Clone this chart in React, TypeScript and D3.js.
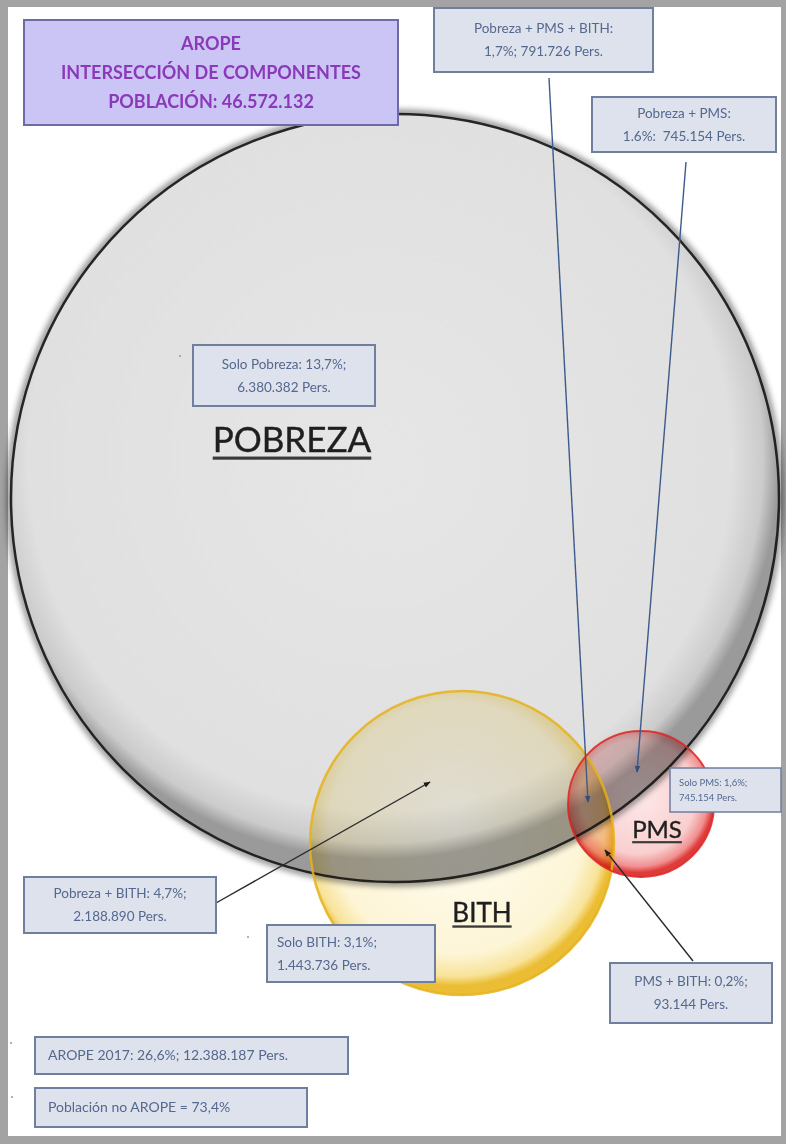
import React, { useRef, useEffect } from "react";
import * as d3 from "d3";

const W = 786;
const H = 1144;

// title box
const titleLines = ["AROPE", "INTERSECCIÓN DE COMPONENTES", "POBLACIÓN: 46.572.132"];

// the three sets
const setNames = ["POBREZA", "BITH", "PMS"];

// regions of the diagram
const regionNames = ["Pobreza + PMS + BITH", "Pobreza + PMS", "Solo Pobreza", "Solo PMS", "Pobreza + BITH", "Solo BITH", "PMS + BITH"];
const regionPct = ["1,7%", "1.6%", "13,7%", "1,6%", "4,7%", "3,1%", "0,2%"];
const regionPers = ["791.726", "745.154", "6.380.382", "745.154", "2.188.890", "1.443.736", "93.144"];

// totals at the bottom
const totalLabels = ["AROPE 2017: 26,6%; 12.388.187 Pers.", "Población no AROPE = 73,4%"];

// layout (px)
const circleLayout = [
  { cx: 395, cy: 498, r: 384, lx: 292, ly: 452, fs: 35, fill: "url(#gPob)", stroke: "#141414", sw: 2.5 },
  { cx: 462, cy: 843, r: 152, lx: 482, ly: 922, fs: 26, fill: "url(#gBith)", stroke: "#e5b11c", sw: 2.5 },
  { cx: 641, cy: 804, r: 73, lx: 657, ly: 838, fs: 24, fill: "url(#gPms)", stroke: "#dc2424", sw: 2 },
];

const boxLayout = [
  { x: 434, y: 8, w: 219, h: 64, align: "middle", fs: 13.5, split: true, sep: "; ", arrow: [549, 78, 588, 802], ac: "#3d5a8c" },
  { x: 592, y: 97, w: 184, h: 55, align: "middle", fs: 13.5, split: true, sep: ":  ", arrow: [686, 162, 637, 772], ac: "#3d5a8c" },
  { x: 193, y: 345, w: 182, h: 61, align: "middle", fs: 13.5, split: false },
  { x: 670, y: 768, w: 111, h: 44, align: "start", fs: 9.5, split: false },
  { x: 24, y: 877, w: 192, h: 56, align: "middle", fs: 13.5, split: false, arrow: [216, 903, 430, 782], ac: "#2b2b2b" },
  { x: 267, y: 925, w: 168, h: 57, align: "start", fs: 13.5, split: false },
  { x: 610, y: 963, w: 162, h: 60, align: "middle", fs: 13.5, split: false, arrow: [693, 961, 605, 850], ac: "#2b2b2b" },
];

const totalLayout = [
  { x: 35, y: 1037, w: 313, h: 37 },
  { x: 35, y: 1088, w: 272, h: 39 },
];

const FONT = "Lato, 'Open Sans', sans-serif";

const App = () => {
  const svgEl = useRef<SVGSVGElement>(null);

  useEffect(() => {
    const svg = d3.select(svgEl.current);
    svg.selectAll("*").remove();

    const defs = svg.append("defs");
    const grad = (id, stops) => {
      const g = defs.append("radialGradient").attr("id", id).attr("cx", "48%").attr("cy", "45%").attr("r", "52%");
      stops.forEach(([o, c]) => g.append("stop").attr("offset", o).attr("stop-color", c));
    };
    grad("gPob", [[0, "#e6e6e6"], [0.88, "#e0e0e0"], [0.96, "#cbcbcb"], [1, "#9a9a9a"]]);
    grad("gBith", [[0, "#fffdf3"], [0.8, "#fdf5d6"], [0.94, "#f8e39a"], [1, "#ebbd34"]]);
    grad("gPms", [[0, "#fde9e9"], [0.75, "#f9cfcf"], [0.92, "#f09090"], [1, "#e03a3a"]]);

    defs.append("filter").attr("id", "blur").attr("x", "-10%").attr("y", "-10%").attr("width", "120%").attr("height", "120%")
      .append("feGaussianBlur").attr("stdDeviation", 3);

    const marker = (id, color) => {
      defs.append("marker").attr("id", id).attr("viewBox", "0 -5 10 10").attr("refX", 9).attr("refY", 0)
        .attr("markerWidth", 7).attr("markerHeight", 7).attr("markerUnits", "userSpaceOnUse").attr("orient", "auto")
        .append("path").attr("d", "M0,-4L10,0L0,4Z").attr("fill", color);
    };
    marker("arBlue", "#2f4d80");
    marker("arDark", "#1c1c1c");

    // frame
    svg.append("rect").attr("width", W).attr("height", H).attr("fill", "#a3a3a3");
    svg.append("rect").attr("x", 8).attr("y", 7).attr("width", 773).attr("height", 1129).attr("fill", "#ffffff");

    // circles: pobreza first, then the small ones multiplied on top
    const circles = svg.append("g");
    circles.append("circle")
      .attr("cx", circleLayout[0].cx).attr("cy", circleLayout[0].cy).attr("r", circleLayout[0].r + 1)
      .attr("fill", "none").attr("stroke", "#000").attr("stroke-width", 6).attr("opacity", 0.5)
      .attr("filter", "url(#blur)");
    circles.selectAll("circle.set")
      .data(circleLayout)
      .enter()
      .append("circle")
      .attr("class", "set")
      .attr("cx", d => d.cx)
      .attr("cy", d => d.cy)
      .attr("r", d => d.r)
      .attr("fill", d => d.fill)
      .style("mix-blend-mode", (d, i) => (i == 0 ? "normal" : "multiply"));
    // strokes on top
    circles.selectAll("circle.edge")
      .data(circleLayout)
      .enter()
      .append("circle")
      .attr("class", "edge")
      .attr("cx", d => d.cx)
      .attr("cy", d => d.cy)
      .attr("r", d => d.r)
      .attr("fill", "none")
      .attr("stroke", d => d.stroke)
      .attr("stroke-width", d => d.sw)
      .attr("stroke-opacity", (d, i) => (i == 0 ? 0.9 : 0.85));

    // set names, underlined
    const names = svg.append("g");
    circleLayout.forEach((c, i) => {
      const t = names.append("text")
        .attr("x", c.lx).attr("y", c.ly)
        .attr("text-anchor", "middle")
        .attr("font-family", FONT)
        .attr("font-size", c.fs)
        .attr("fill", "#1f1f1f")
        .attr("stroke", "#1f1f1f").attr("stroke-width", 0.4)
        .text(setNames[i]);
      const w = (t.node() as SVGTextElement).getComputedTextLength();
      names.append("rect")
        .attr("x", c.lx - w / 2).attr("y", c.ly + c.fs * 0.13)
        .attr("width", w).attr("height", Math.max(2, c.fs * 0.09))
        .attr("fill", "#3a3a3a");
    });

    // arrows
    svg.append("g").selectAll("line")
      .data(boxLayout.filter(b => b.arrow))
      .enter()
      .append("line")
      .attr("x1", d => d.arrow[0]).attr("y1", d => d.arrow[1])
      .attr("x2", d => d.arrow[2]).attr("y2", d => d.arrow[3])
      .attr("stroke", d => d.ac)
      .attr("stroke-width", 1.4)
      .attr("marker-end", d => (d.ac == "#3d5a8c" ? "url(#arBlue)" : "url(#arDark)"));

    // region label boxes
    const boxes = svg.append("g");
    boxLayout.forEach((b, i) => {
      let l1, l2;
      if (b.split) {
        l1 = regionNames[i] + ":";
        l2 = regionPct[i] + b.sep + regionPers[i] + " Pers.";
      } else {
        l1 = regionNames[i] + ": " + regionPct[i] + ";";
        l2 = regionPers[i] + " Pers.";
      }
      const g = boxes.append("g");
      g.append("rect")
        .attr("x", b.x).attr("y", b.y).attr("width", b.w).attr("height", b.h)
        .attr("fill", "#dde2ec").attr("stroke", "#6f7f9f").attr("stroke-width", b.fs < 12 ? 1.5 : 2);
      const tx = b.align == "middle" ? b.x + b.w / 2 : b.x + (b.fs < 12 ? 9 : 10);
      const lh = b.fs < 12 ? 15 : 23;
      const y0 = b.y + b.h / 2 - lh / 2;
      [l1, l2].forEach((s, k) => {
        g.append("text")
          .attr("x", tx).attr("y", y0 + k * lh)
          .attr("dy", "0.35em")
          .attr("text-anchor", b.align)
          .attr("font-family", FONT)
          .attr("font-size", b.fs)
          .attr("fill", "#55688e")
          .style("white-space", "pre")
          .text(s);
      });
    });

    // totals
    totalLayout.forEach((b, i) => {
      svg.append("rect")
        .attr("x", b.x).attr("y", b.y).attr("width", b.w).attr("height", b.h)
        .attr("fill", "#dde2ec").attr("stroke", "#6f7f9f").attr("stroke-width", 2);
      svg.append("text")
        .attr("x", b.x + 13).attr("y", b.y + b.h / 2).attr("dy", "0.35em")
        .attr("font-family", FONT).attr("font-size", 14).attr("fill", "#55688e")
        .text(totalLabels[i]);
    });

    // tiny stray dots next to some boxes
    svg.append("g").selectAll("circle")
      .data([[180, 356], [248, 937], [11, 1043], [12, 1097]])
      .enter().append("circle")
      .attr("cx", d => d[0]).attr("cy", d => d[1]).attr("r", 1).attr("fill", "#9a9a9a");

    // title box
    const title = svg.append("g");
    title.append("rect")
      .attr("x", 24).attr("y", 20).attr("width", 374).attr("height", 105)
      .attr("fill", "#cbc5f6").attr("stroke", "#6d6aa8").attr("stroke-width", 2);
    title.selectAll("text")
      .data(titleLines)
      .enter()
      .append("text")
      .attr("x", 211)
      .attr("y", (d, i) => 44 + i * 29)
      .attr("dy", "0.35em")
      .attr("text-anchor", "middle")
      .attr("font-family", FONT)
      .attr("font-weight", "bold")
      .attr("font-size", 18)
      .attr("fill", "#8a3ab8")
      .text(d => d);
  }, []);

  return (
    <div style={{ position: "absolute", left: 0, top: 0 }}>
      <svg ref={svgEl} width={W} height={H} style={{ display: "block" }} />
    </div>
  );
};

export default App;
